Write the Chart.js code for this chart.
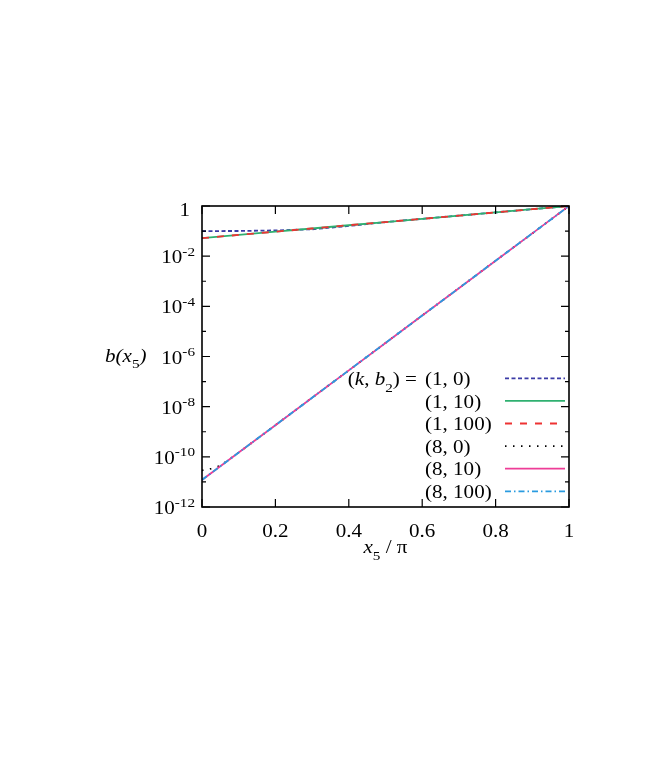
<!DOCTYPE html>
<html>
<head>
<meta charset="utf-8">
<script src="https://cdn.jsdelivr.net/npm/chart.js@4.4.1/dist/chart.umd.min.js"></script>
<style>
  html, body { margin: 0; padding: 0; background: #fff; }
  canvas { display: block; }
</style>
</head>
<body>
<canvas id="chart" width="654" height="763"></canvas>
<script>
// ─── Data ─────────────────────────────────────────────────────────────────
const xs     = [0, 0.1, 0.2, 0.3, 0.4, 0.5, 0.6, 0.7, 0.8, 0.9, 1];
const xsNear = [0, 0.025, 0.05, 0.1, 0.2, 0.3, 0.4, 0.5, 0.6, 0.7, 0.8, 0.9, 1];

const k1b0   = [0.100, 0.101, 0.106, 0.118, 0.160, 0.229, 0.308, 0.413, 0.555, 0.745, 1];
const k1b10  = [0.052, 0.0705, 0.0946, 0.127, 0.171, 0.229, 0.308, 0.413, 0.555, 0.745, 1];
const k1b100 = [0.052, 0.0705, 0.0946, 0.127, 0.171, 0.229, 0.308, 0.413, 0.555, 0.745, 1];
const k8b0   = [2.9e-11, 3.4e-11, 4.4e-11, 1.48e-10, 1.83e-9, 2.27e-8, 2.8e-7, 3.47e-6, 4.3e-5, 5.3e-4, 6.6e-3, 8.1e-2, 1];
const k8b10  = [1.2e-11, 1.48e-10, 1.83e-9, 2.27e-8, 2.8e-7, 3.47e-6, 4.3e-5, 5.3e-4, 6.6e-3, 8.1e-2, 1];
const k8b100 = [1.2e-11, 1.48e-10, 1.83e-9, 2.27e-8, 2.8e-7, 3.47e-6, 4.3e-5, 5.3e-4, 6.6e-3, 8.1e-2, 1];

const seriesLabels = ['(1, 0)', '(1, 10)', '(1, 100)', '(8, 0)', '(8, 10)', '(8, 100)'];
const seriesX      = [xs, xs, xs, xsNear, xs, xs];
const seriesY      = [k1b0, k1b10, k1b100, k8b0, k8b10, k8b100];

const xTicks      = [0, 0.2, 0.4, 0.6, 0.8, 1];
const xTickLabels = ['0', '0.2', '0.4', '0.6', '0.8', '1'];
const yMajorExps  = [0, -2, -4, -6, -8, -10, -12];
const yMinorExps  = [-1, -3, -5, -7, -9, -11];

// ─── Styles ───────────────────────────────────────────────────────────────
const lineStyles = [
    { color: '#3b3ba6', dash: [4, 2.5] },
    { color: '#2fb070', dash: [] },
    { color: '#ee3333', dash: [7, 8] },
    { color: '#000000', dash: [1.5, 6.5] },
    { color: '#ee3d97', dash: [] },
    { color: '#2a9be0', dash: [6, 3, 1.5, 3] }
];

const FONT = '"Liberation Serif", "Times New Roman", serif';
const SX   = 1.17;   // horizontal stretch of the reference text
const FS   = 18;

function fontFor(p, size) {
    const sz = (p.sub || p.sup) ? Math.round(size * 0.74) : size;
    return (p.it ? 'italic ' : '') + sz + 'px ' + FONT;
}

function richWidth(ctx, parts, size) {
    let w = 0;
    parts.forEach(p => { ctx.font = fontFor(p, size); w += ctx.measureText(p.t).width; });
    return w * SX;
}

/** Draw text made of plain / italic / sub / sup pieces */
function drawRich(ctx, parts, x, y, align, size = FS) {
    const w = richWidth(ctx, parts, size);
    let cx = align === 'right' ? x - w : align === 'center' ? x - w / 2 : x;
    parts.forEach(p => {
        ctx.font = fontFor(p, size);
        const dy = p.sub ? 6.5 : p.sup ? -7.5 : 0;
        ctx.save();
        ctx.translate(cx, y + dy);
        ctx.scale(SX, 1);
        ctx.fillText(p.t, 0, 0);
        ctx.restore();
        cx += ctx.measureText(p.t).width * SX;
    });
}

// ─── Frame, ticks, labels, key ───────────────────────────────────────────
const decorPlugin = {
    id: 'decor',
    beforeDraw(chart) {
        const ctx = chart.ctx;
        ctx.save();
        ctx.fillStyle = '#fff';
        ctx.fillRect(0, 0, chart.width, chart.height);
        ctx.restore();
    },
    afterDatasetsDraw(chart) {
        const ctx = chart.ctx;
        const { left, right, top, bottom } = chart.chartArea;
        const xS = chart.scales.x, yS = chart.scales.y;

        ctx.save();
        ctx.strokeStyle = '#000';
        ctx.fillStyle = '#000';
        ctx.lineWidth = 1.6;
        ctx.setLineDash([]);
        ctx.strokeRect(left, top, right - left, bottom - top);

        // y ticks, mirrored on the right
        ctx.lineWidth = 1.2;
        const yTick = (exp, len) => {
            const py = yS.getPixelForValue(Math.pow(10, exp));
            ctx.beginPath();
            ctx.moveTo(left, py);  ctx.lineTo(left + len, py);
            ctx.moveTo(right, py); ctx.lineTo(right - len, py);
            ctx.stroke();
        };
        yMajorExps.forEach(e => yTick(e, 8));
        yMinorExps.forEach(e => yTick(e, 4));

        // x ticks, mirrored on top
        xTicks.forEach(v => {
            const px = xS.getPixelForValue(v);
            ctx.beginPath();
            ctx.moveTo(px, bottom); ctx.lineTo(px, bottom - 8);
            ctx.moveTo(px, top);    ctx.lineTo(px, top + 8);
            ctx.stroke();
        });

        ctx.textBaseline = 'alphabetic';

        // y tick labels
        yMajorExps.forEach(e => {
            const py = yS.getPixelForValue(Math.pow(10, e));
            if (e === 0) {
                drawRich(ctx, [{ t: '1' }], 190, py + 9.5, 'right');
            } else {
                drawRich(ctx, [{ t: '10' }, { t: '-' + (-e), sup: true }], 195, py + 7, 'right');
            }
        });

        // x tick labels
        xTicks.forEach((v, i) => {
            drawRich(ctx, [{ t: xTickLabels[i] }], xS.getPixelForValue(v), bottom + 29.5, 'center');
        });

        // axis titles
        drawRich(ctx, [{ t: 'x', it: true }, { t: '5', sub: true }, { t: ' / π' }],
                 (left + right) / 2, bottom + 46, 'center');
        drawRich(ctx, [{ t: 'b(x', it: true }, { t: '5', sub: true }, { t: ')', it: true }],
                 105, 361.5, 'left');

        // key
        const keyX = 425, keyY0 = 385, keyDy = 22.6;
        drawRich(ctx, [{ t: '(' }, { t: 'k', it: true }, { t: ', ' }, { t: 'b', it: true },
                       { t: '2', sub: true }, { t: ') =' }], keyX - 8, keyY0, 'right');
        seriesLabels.forEach((lab, i) => {
            const by = keyY0 + i * keyDy;
            drawRich(ctx, [{ t: lab }], keyX, by, 'left');
            const st = lineStyles[i];
            ctx.save();
            ctx.strokeStyle = st.color;
            ctx.lineWidth = 1.8;
            ctx.setLineDash(st.dash);
            ctx.beginPath();
            ctx.moveTo(505, by - 6.7);
            ctx.lineTo(565, by - 6.7);
            ctx.stroke();
            ctx.restore();
        });
        ctx.restore();
    }
};

// ─── Chart ───────────────────────────────────────────────────────────────
const datasets = seriesLabels.map((lab, i) => ({
    label: lab,
    data: seriesX[i].map((x, j) => ({ x, y: seriesY[i][j] })),
    borderColor: lineStyles[i].color,
    borderDash: lineStyles[i].dash,
    borderWidth: 1.8,
    pointRadius: 0,
    fill: false,
    tension: 0,
    order: 5 - i
}));

new Chart(document.getElementById('chart').getContext('2d'), {
    type: 'line',
    data: { datasets },
    options: {
        responsive: false,
        animation: false,
        devicePixelRatio: 1,
        layout: { padding: { left: 202, top: 206, right: 85, bottom: 256 } },
        plugins: { legend: { display: false }, tooltip: { enabled: false } },
        scales: {
            x: { type: 'linear', min: 0, max: 1, display: false },
            y: { type: 'logarithmic', min: 1e-12, max: 1, display: false }
        }
    },
    plugins: [decorPlugin]
});
</script>
</body>
</html>
